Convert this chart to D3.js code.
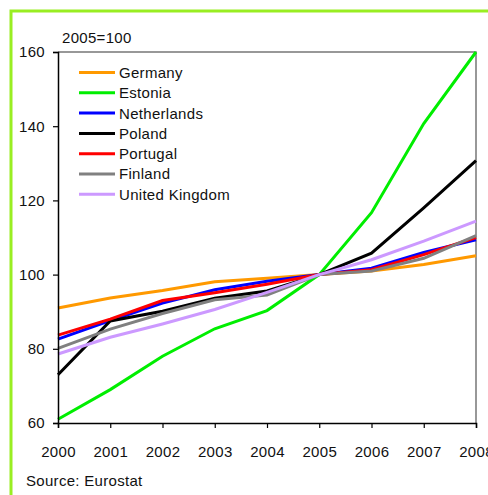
<!DOCTYPE html>
<html>
<head>
<meta charset="utf-8">
<script src="https://cdn.jsdelivr.net/npm/d3@7"></script>
<style>
  body { margin: 0; background: #fff; }
  text { font-family: "Liberation Sans", Arial, sans-serif; font-size: 15px; fill: #111; letter-spacing: 0.3px; }
</style>
</head>
<body>
<div id="chart"></div>
<script>
// index values, 2005=100
var years = [2000, 2001, 2002, 2003, 2004, 2005, 2006, 2007, 2008];
var countries = ["Germany", "Estonia", "Netherlands", "Poland", "Portugal", "Finland", "United Kingdom"];
var germany     = [91, 93.7, 95.7, 98.1, 99, 100, 101, 102.7, 105.1];
var estonia     = [61, 69, 78, 85.4, 90.3, 100, 116.7, 140.7, 160];
var netherlands = [82.6, 87.6, 92.3, 95.9, 98.2, 100, 101.7, 106, 109.4];
var poland      = [73, 87.5, 90.1, 93.6, 95.6, 100, 105.8, 118, 130.7];
var portugal    = [83.7, 88, 93, 95.1, 97.4, 100, 101.3, 105.4, 110];
var finland     = [80.1, 85.3, 89.5, 93.2, 94.5, 100, 101, 104.4, 110.5];
var uk          = [78.6, 83.1, 86.7, 90.6, 95.2, 100, 104, 109, 114.4];
var colors = ["#ff9900", "#00ee00", "#0000ff", "#000000", "#ff0000", "#808080", "#cc99ff"];
var yTicks = [60, 80, 100, 120, 140, 160];

var series = [germany, estonia, netherlands, poland, portugal, finland, uk];

var width = 488, height = 495;
var svg = d3.select("#chart").append("svg")
  .attr("width", width).attr("height", height);

// green frame (runs off the right and bottom edges)
svg.append("rect")
  .attr("x", 11).attr("y", 11)
  .attr("width", 500).attr("height", 500)
  .attr("fill", "none").attr("stroke", "#99ee22").attr("stroke-width", 3);

var x = d3.scaleLinear().domain([2000, 2008]).range([58, 476]);
var y = d3.scaleLinear().domain([60, 160]).range([423, 52]);

// plot box top and right (grey)
svg.append("path")
  .attr("d", "M" + x(2000) + "," + y(160) + "H" + x(2008) + "V" + y(60))
  .attr("fill", "none").attr("stroke", "#777").attr("stroke-width", 1.5);

var line = d3.line()
  .x(function(d, i){ return x(years[i]); })
  .y(function(d){ return y(d); });

svg.append("g").selectAll("path")
  .data(series)
  .enter().append("path")
  .attr("d", line)
  .attr("fill", "none")
  .attr("stroke", function(d, i){ return colors[i]; })
  .attr("stroke-width", 3)
  .attr("stroke-linejoin", "miter");

// axes
var yAxis = svg.append("g")
  .attr("transform", "translate(" + x(2000) + ",0)")
  .call(d3.axisLeft(y).tickValues(yTicks).tickSize(5).tickPadding(8));
var xAxis = svg.append("g")
  .attr("transform", "translate(0," + y(60) + ")")
  .call(d3.axisBottom(x).tickValues(years).tickFormat(d3.format("d")).tickSize(5).tickPadding(18));
[yAxis, xAxis].forEach(function(a){
  a.select(".domain").attr("stroke", "#000").attr("stroke-width", 1.5);
  a.selectAll(".tick line").attr("stroke", "#000").attr("stroke-width", 1.2);
  a.selectAll("text").attr("font-family", null).attr("font-size", null).attr("fill", null);
});
yAxis.attr("font-family", null).attr("font-size", null);
xAxis.attr("font-family", null).attr("font-size", null);

svg.append("text").attr("x", 62).attr("y", 43).text("2005=100");
svg.append("text").attr("x", 26).attr("y", 486).text("Source: Eurostat");

// legend
var legend = svg.append("g").selectAll("g")
  .data(countries)
  .enter().append("g")
  .attr("transform", function(d, i){ return "translate(79," + (72.5 + i * 20.3) + ")"; });
legend.append("line")
  .attr("x1", 0).attr("x2", 36)
  .attr("stroke", function(d, i){ return colors[i]; })
  .attr("stroke-width", 3);
legend.append("text")
  .attr("x", 40).attr("dy", "0.36em")
  .text(function(d){ return d; });
</script>
</body>
</html>
